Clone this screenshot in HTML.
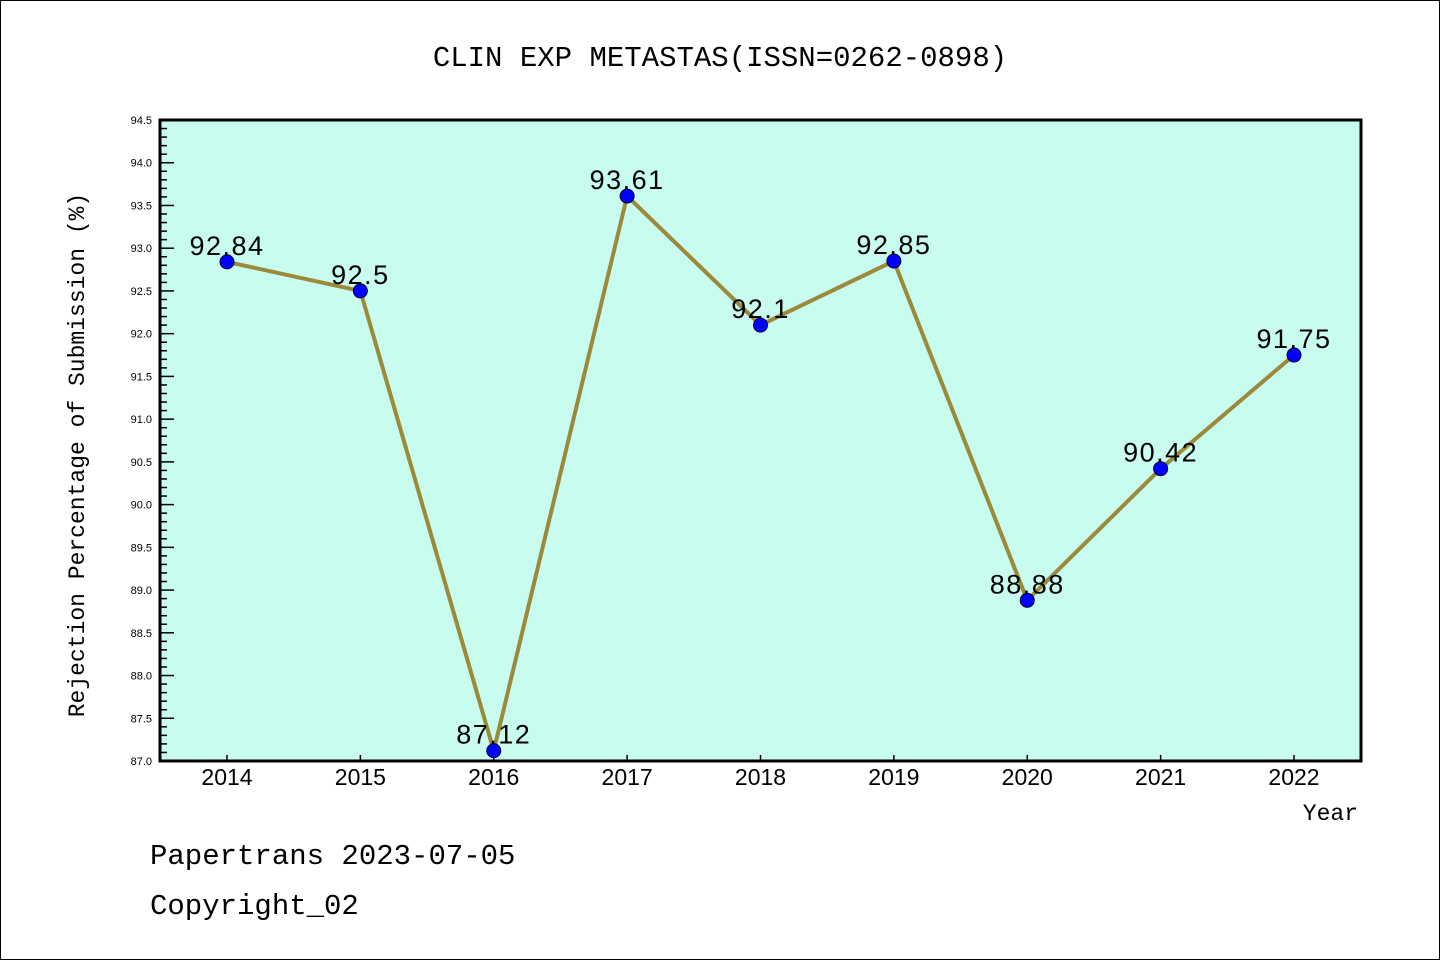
<!DOCTYPE html>
<html><head><meta charset="utf-8"><style>
body{margin:0;background:#fff}
svg{display:block}
text{font-family:"Liberation Sans","DejaVu Sans",sans-serif}
text.mono{font-family:"Liberation Mono","DejaVu Sans Mono",monospace}
</style></head><body>
<svg id="c" width="1440" height="960" viewBox="0 0 1440 960">
<rect x="0.5" y="0.5" width="1439" height="959" fill="#fff" stroke="#000"/>
<text class="mono" x="720" y="66" font-size="29" text-anchor="middle" style="font-family:'Liberation Mono',monospace">CLIN EXP METASTAS(ISSN=0262-0898)</text>
<rect x="160" y="120" width="1201" height="641" fill="#c8fcef"/>
<g id="yt"></g>
<g id="xt"></g>
<g id="series"></g>
<rect x="160" y="120" width="1201" height="641" fill="none" stroke="#000" stroke-width="3"/>
<text transform="translate(84,455) rotate(-90)" font-size="23" text-anchor="middle" style="font-family:'Liberation Mono',monospace">Rejection Percentage of Submission (%)</text>
<text x="1358" y="820" font-size="23" text-anchor="end" style="font-family:'Liberation Mono',monospace">Year</text>
<text class="mono" x="150" y="864" font-size="29">Papertrans 2023-07-05</text>
<text class="mono" x="150" y="914" font-size="29">Copyright_02</text>
</svg>
<script>
const years=["2014","2015","2016","2017","2018","2019","2020","2021","2022"];
const values=[92.84,92.5,87.12,93.61,92.1,92.85,88.88,90.42,91.75];
const labels=["92.84","92.5","87.12","93.61","92.1","92.85","88.88","90.42","91.75"];
const yTicks=["87.0","87.5","88.0","88.5","89.0","89.5","90.0","90.5","91.0","91.5","92.0","92.5","93.0","93.5","94.0","94.5"];
const NS="http://www.w3.org/2000/svg";
const yMin=87,yMax=94.5,plotTop=120,plotBot=761;
const ys=v=>plotBot-(v-yMin)/(yMax-yMin)*(plotBot-plotTop);
const xs=i=>227+i*(1294-227)/(years.length-1);
function mk(t,a,p){const e=document.createElementNS(NS,t);for(const k in a)e.setAttribute(k,a[k]);p.appendChild(e);return e;}
const yt=document.getElementById('yt'),xt=document.getElementById('xt'),s=document.getElementById('series');
for(let k=0;k<=75;k++){const v=yMin+k*0.1;const major=k%5==0;
 const l=mk('line',{x1:160,x2:160+(major?14:7),y1:ys(v),y2:ys(v),stroke:'#000','stroke-width':1.5},yt);
 
 }
yTicks.forEach(t=>{const e=mk('text',{x:152,y:ys(parseFloat(t))+4,'font-size':11,'text-anchor':'end'},yt);e.textContent=t;
 
 });
years.forEach((yr,i)=>{const l=mk('line',{x1:xs(i),x2:xs(i),y1:plotBot,y2:plotBot-6,stroke:'#000','stroke-width':1.5},xt);
 
 
 const e=mk('text',{x:xs(i),y:785,'font-size':23,'text-anchor':'middle'},xt);e.textContent=yr;
 
 });
const pl=mk('polyline',{points:values.map((v,i)=>xs(i)+','+ys(v)).join(' '),fill:'none',stroke:'#9a8a3a','stroke-width':4},s);


values.forEach((v,i)=>{const c=mk('circle',{cx:xs(i),cy:ys(v),r:7,fill:'#0000ff',stroke:'#000033','stroke-width':1},s);
 
 
 const t=mk('text',{x:xs(i),y:ys(v)-7,'font-size':27,'text-anchor':'middle','letter-spacing':'1.5'},s);t.textContent=labels[i];
 
 });
</script>
</body></html>
